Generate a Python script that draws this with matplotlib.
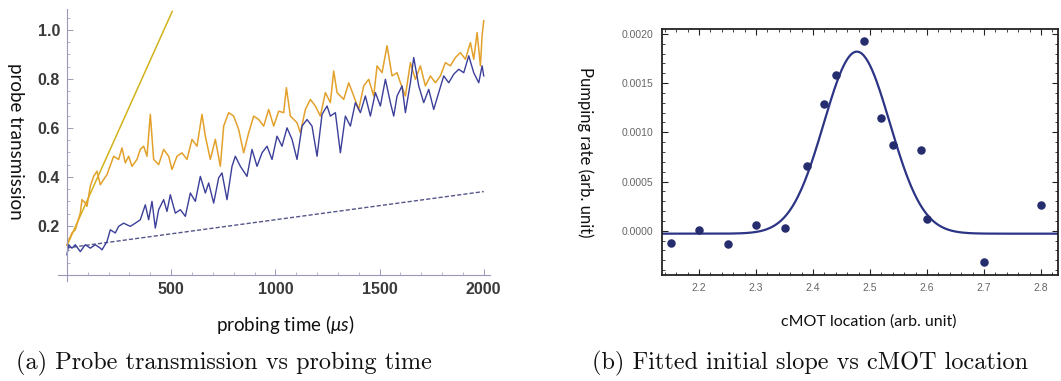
import numpy as np
import matplotlib
matplotlib.use("Agg")
import matplotlib.pyplot as plt
from matplotlib.ticker import MultipleLocator

plt.rcParams['mathtext.fontset'] = 'custom'
plt.rcParams['mathtext.it'] = 'Lato:italic'
plt.rcParams['mathtext.rm'] = 'Lato'

# (a) probe transmission traces
orange_t = [0, 24, 40, 64, 72, 88, 96, 112, 128, 144, 160, 176, 192, 224, 248, 264, 280, 296,
            312, 336, 352, 368, 384, 400, 416, 440, 464, 488, 504, 528, 552, 576, 600, 624,
            648, 664, 688, 712, 736, 752, 776, 800, 824, 848, 872, 896, 920, 944, 968, 992,
            1016, 1040, 1053, 1072, 1104, 1120, 1144, 1168, 1192, 1216, 1240, 1264, 1280,
            1296, 1328, 1352, 1376, 1400, 1424, 1448, 1472, 1488, 1512, 1536, 1560, 1584,
            1600, 1624, 1648, 1672, 1696, 1720, 1744, 1768, 1792, 1816, 1840, 1864, 1888,
            1912, 1936, 1952, 1968, 1984, 1992, 2000]
orange_y = [0.123, 0.171, 0.184, 0.252, 0.307, 0.293, 0.280, 0.362, 0.402, 0.423, 0.368, 0.389,
            0.409, 0.484, 0.471, 0.518, 0.457, 0.484, 0.443, 0.471, 0.512, 0.525, 0.484, 0.655,
            0.471, 0.450, 0.512, 0.484, 0.430, 0.484, 0.498, 0.471, 0.553, 0.525, 0.655, 0.566,
            0.471, 0.553, 0.443, 0.607, 0.662, 0.648, 0.593, 0.498, 0.580, 0.648, 0.634, 0.607,
            0.675, 0.607, 0.668, 0.662, 0.764, 0.648, 0.621, 0.580, 0.675, 0.716, 0.689, 0.648,
            0.744, 0.703, 0.832, 0.744, 0.716, 0.784, 0.730, 0.675, 0.771, 0.798, 0.730, 0.853,
            0.825, 0.935, 0.812, 0.825, 0.784, 0.730, 0.866, 0.798, 0.853, 0.771, 0.812, 0.784,
            0.812, 0.866, 0.853, 0.887, 0.907, 0.880, 0.948, 0.880, 0.989, 0.853, 0.975, 1.037]

blue_t = [0, 8, 24, 40, 64, 88, 112, 136, 160, 168, 192, 208, 232, 248, 272, 304, 328, 352, 376,
          392, 408, 424, 440, 464, 480, 496, 520, 544, 568, 592, 616, 640, 664, 680, 704, 728,
          744, 768, 792, 808, 832, 864, 888, 912, 936, 960, 984, 1008, 1032, 1056, 1080, 1104,
          1128, 1152, 1176, 1200, 1224, 1248, 1264, 1288, 1312, 1336, 1360, 1384, 1408, 1432,
          1456, 1480, 1504, 1528, 1552, 1568, 1584, 1608, 1624, 1648, 1664, 1688, 1712, 1736,
          1760, 1784, 1808, 1832, 1856, 1880, 1904, 1928, 1952, 1976, 1992, 2000]
blue_y = [0.082, 0.123, 0.109, 0.123, 0.095, 0.123, 0.109, 0.123, 0.109, 0.102, 0.136, 0.184,
          0.171, 0.198, 0.211, 0.198, 0.211, 0.225, 0.286, 0.225, 0.300, 0.191, 0.266, 0.307,
          0.259, 0.327, 0.252, 0.266, 0.239, 0.334, 0.300, 0.402, 0.334, 0.375, 0.293, 0.396,
          0.416, 0.307, 0.443, 0.484, 0.443, 0.402, 0.512, 0.443, 0.498, 0.525, 0.471, 0.566,
          0.525, 0.600, 0.553, 0.471, 0.607, 0.634, 0.607, 0.484, 0.655, 0.689, 0.648, 0.662,
          0.498, 0.648, 0.607, 0.703, 0.662, 0.730, 0.648, 0.744, 0.689, 0.798, 0.703, 0.648,
          0.730, 0.771, 0.662, 0.784, 0.887, 0.771, 0.703, 0.757, 0.675, 0.744, 0.812, 0.784,
          0.819, 0.839, 0.825, 0.894, 0.825, 0.784, 0.853, 0.812]

# initial-slope fit lines (endpoints)
fast_t = [0, 505]
fast_y = [0.12, 1.075]
slow_t = [0, 2000]
slow_y = [0.11, 0.34]

# (b) pumping rate vs cMOT location
cmot_x = [2.15, 2.20, 2.25, 2.30, 2.35, 2.39, 2.42, 2.44, 2.49, 2.52, 2.54, 2.59, 2.60, 2.70, 2.80]
rate_y = [-0.00012, 0.00001, -0.000135, 0.00006, 0.00003, 0.00066, 0.00129, 0.00158, 0.00193,
          0.00115, 0.00087, 0.00082, 0.00012, -0.00032, 0.00026]
# gaussian fit parameters: amplitude, centre, width, offset
fit_amp, fit_mu, fit_sigma, fit_off = 0.00185, 2.477, 0.058, -0.00003

fig = plt.figure(figsize=(10.61, 3.81), dpi=100)

# ---- panel (a) ----
ax1 = fig.add_axes([58 / 1061, 1 - 281 / 381, 432 / 1061, 272 / 381])
ax1.plot(fast_t, fast_y, color='#d2b21a', lw=1.1)
ax1.plot(slow_t, slow_y, color='#55558a', lw=1.0, dashes=(3, 1.5))
ax1.plot(orange_t, orange_y, color='#e3a12c', lw=1.1)
ax1.plot(blue_t, blue_y, color='#3b3f99', lw=1.0)
ax1.set_xlim(-43, 2030)
ax1.set_ylim(-0.025, 1.085)
for s in ['top', 'right']:
    ax1.spines[s].set_visible(False)
ax1.spines['left'].set_position(('data', 0))
ax1.spines['bottom'].set_position(('data', 0))
for s in ['left', 'bottom']:
    ax1.spines[s].set_color('#9a9ab8')
    ax1.spines[s].set_linewidth(0.8)
ax1.set_xticks([500, 1000, 1500, 2000])
ax1.set_yticks([0.2, 0.4, 0.6, 0.8, 1.0])
ax1.xaxis.set_minor_locator(MultipleLocator(100))
ax1.yaxis.set_minor_locator(MultipleLocator(0.05))
ax1.tick_params(which='both', direction='in', color='#9a9ab8', labelcolor='#3a3a3a',
                labelsize=11.5)
ax1.tick_params(which='major', length=4, width=0.7, pad=5)
ax1.tick_params(which='minor', length=2, width=0.5)
for lab in ax1.get_xticklabels() + ax1.get_yticklabels():
    lab.set_fontweight('bold')
    lab.set_fontfamily('Liberation Sans')
fig.text(15 / 1061, 1 - 141 / 381, 'probe transmission', rotation=270, ha='center',
         va='center', fontsize=13.5, family='Lato', color='#111111')
fig.text(285 / 1061, 1 - 325 / 381, r'probing time ($\mu s$)', ha='center', va='center',
         fontsize=13.5, family='Lato', color='#111111')
fig.text(224 / 1061, 1 - 363 / 381, '(a) Probe transmission vs probing time', ha='center',
         va='center', fontsize=17.5, family='cmr10', color='#111111')

# ---- panel (b) ----
ax2 = fig.add_axes([662 / 1061, 1 - 275 / 381, 396 / 1061, 246 / 381])
xf = np.linspace(2.12, 2.86, 400)
ax2.plot(xf, fit_amp * np.exp(-(xf - fit_mu) ** 2 / (2 * fit_sigma ** 2)) + fit_off,
         color='#2c3585', lw=1.6)
ax2.scatter(cmot_x, rate_y, s=26, color='#262d6e', zorder=3)
ax2.set_xlim(2.135, 2.83)
ax2.set_ylim(-0.00045, 0.00205)
ax2.set_xticks([2.2, 2.3, 2.4, 2.5, 2.6, 2.7, 2.8])
ax2.set_xticklabels(['2.2', '2.3', '2.4', '2.5', '2.6', '2.7', '2.8'])
ax2.set_yticks([0.0, 0.0005, 0.0010, 0.0015, 0.0020])
ax2.set_yticklabels(['0.0000', '0.0005', '0.0010', '0.0015', '0.0020'])
ax2.xaxis.set_minor_locator(MultipleLocator(0.02))
ax2.yaxis.set_minor_locator(MultipleLocator(0.0001))
for s in ax2.spines.values():
    s.set_color('#222222')
    s.set_linewidth(1.3)
ax2.tick_params(which='both', direction='in', top=True, right=True, color='#222222',
                labelcolor='#666666', labelsize=7.5)
ax2.tick_params(which='major', length=4, width=0.8, pad=6)
ax2.tick_params(which='minor', length=2, width=0.6)
for lab in ax2.get_xticklabels() + ax2.get_yticklabels():
    lab.set_fontfamily('Liberation Sans')
fig.text(585 / 1061, 1 - 152 / 381, 'Pumping rate (arb. unit)', rotation=270, ha='center',
         va='center', fontsize=12, family='Lato', color='#111111')
fig.text(869 / 1061, 1 - 322 / 381, 'cMOT location (arb. unit)', ha='center', va='center',
         fontsize=11.5, family='Lato', color='#111111')
fig.text(810 / 1061, 1 - 363 / 381, '(b) Fitted initial slope vs cMOT location', ha='center',
         va='center', fontsize=17.5, family='cmr10', color='#111111')

fig.savefig('out.png', dpi=100)
